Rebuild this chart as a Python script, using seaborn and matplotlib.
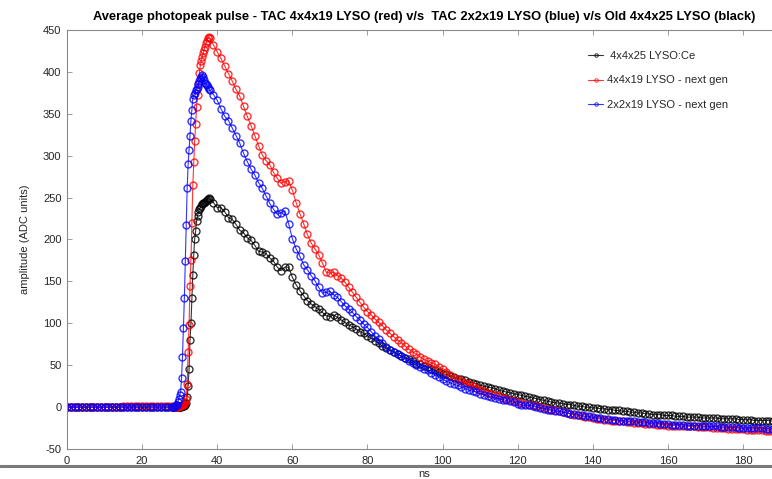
import numpy as np
import pandas as pd
import matplotlib
matplotlib.use("Agg")
import matplotlib.pyplot as plt
import seaborn as sns
from matplotlib.lines import Line2D

# time axis (ns): coarse baseline, fine rising edge, coarse tail
t_base = list(range(0, 29))
t_rise = [28 + 0.25 * k for k in range(1, 41)]
t_tail = list(range(39, 191))

black_base = [0, 0, 0, 0, 0, 0, 0, 0, 0, 0, 0, 0, 0, 0, 0, 0, 0, 0, 0, 0,
              0, 0, 0, 0, 0, 0, 0, 0, 0]
red_base = [0, 0, 0, 0, 0, 0, 0, 0, 0, 0, 0, 0, 0, 0, 0, 1, 1, 1, 1, 1,
            1, 1, 1, 1, 1, 1, 1, 1, 1]
blue_base = [0, 0, 0, 0, 0, 0, 0, 0, 0, 0, 0, 0, 0, 0, 0, 0, 0, 0, 0, 0,
             0, 0, 0, 0, 0, 0, 0, 0, 0]

black_rise = [0, 0, 0, 0, 0, 0, 0, 0, 0, 1, 1, 1, 1, 2, 5, 12, 25, 45, 80, 100,
              130, 158, 182, 201, 210, 222, 228, 233, 236, 238,
              240, 242, 243, 244, 245, 246, 247, 248, 249, 248]
red_rise = [0, 0, 0, 0, 0, 0, 1, 1, 1, 2, 2, 3, 4, 6, 10, 28, 66, 98, 145, 175,
            220, 265, 292, 318, 338, 358, 373, 386, 399, 408,
            413, 418, 422, 426, 430, 434, 437, 440, 442, 441]
blue_rise = [0, 0, 1, 2, 3, 6, 10, 14, 18, 35, 60, 94, 130, 174, 217, 262, 290, 307, 324, 342,
             355, 368, 373, 375, 378, 380, 382, 386, 389, 391,
             394, 396, 394, 390, 387, 385, 384, 382, 380, 378]

black_tail = [244, 238, 238, 233, 226, 224, 218, 211, 208, 202,
              199, 193, 186, 185, 183, 178, 174, 167, 163, 167,
              167, 155, 146, 139, 133, 127, 123, 120, 117, 113,
              109, 108, 110, 107, 104, 101, 98, 96, 93, 90,
              88, 85, 82, 79, 76, 73, 70, 68, 66, 63,
              61, 59, 57, 55, 52, 51, 49, 48, 46, 44,
              42, 40, 39, 37, 36, 34, 33, 32, 30, 29,
              28, 26, 25, 24, 23, 22, 20, 19, 18, 17,
              16, 15, 14, 13, 12, 11, 10, 9, 8, 7,
              6, 5, 5, 4, 3, 3, 2, 1, 1, 0,
              0, -1, -1, -2, -2, -3, -3, -4, -4, -5,
              -5, -6, -6, -7, -7, -8, -8, -9, -9, -9,
              -10, -10, -10, -11, -11, -11, -12, -12, -12, -12,
              -13, -13, -13, -13, -13, -14, -14, -14, -14, -14,
              -15, -15, -15, -15, -16, -16, -16, -16, -16, -17,
              -17, -17]
red_tail = [432, 424, 416, 407, 398, 389, 379, 371, 359, 347,
            336, 324, 312, 301, 294, 289, 280, 273, 267, 269,
            270, 259, 244, 231, 219, 206, 196, 189, 182, 172,
            161, 160, 161, 157, 154, 149, 143, 137, 131, 125,
            119, 114, 110, 105, 101, 97, 92, 88, 84, 80,
            77, 73, 69, 66, 63, 60, 57, 55, 53, 51,
            48, 45, 42, 38, 35, 33, 31, 29, 27, 25,
            23, 21, 19, 17, 16, 14, 13, 11, 10, 9,
            7, 6, 5, 4, 3, 2, 1, 0, -1, -2,
            -3, -4, -5, -6, -7, -8, -9, -10, -11, -12,
            -12, -13, -14, -14, -15, -15, -16, -16, -17, -17,
            -18, -18, -19, -19, -19, -20, -20, -20, -21, -21,
            -21, -22, -22, -22, -22, -23, -23, -23, -23, -24,
            -24, -24, -24, -25, -25, -25, -25, -26, -26, -26,
            -26, -26, -27, -27, -27, -27, -27, -28, -28, -28,
            -28, -28]
blue_tail = [373, 366, 356, 347, 342, 333, 324, 315, 303, 293,
             284, 277, 268, 261, 252, 243, 236, 230, 232, 234,
             219, 201, 189, 180, 170, 164, 157, 151, 143, 136,
             137, 138, 134, 131, 126, 121, 117, 113, 108, 104,
             99, 95, 90, 85, 81, 77, 72, 68, 66, 63,
             61, 58, 55, 53, 50, 48, 46, 44, 41, 38,
             36, 33, 31, 29, 27, 26, 24, 22, 20, 19,
             18, 16, 15, 13, 12, 11, 10, 9, 8, 7,
             6, 4, 3, 2, 2, 1, 0, -1, -2, -3,
             -4, -5, -5, -6, -7, -8, -8, -9, -10, -11,
             -11, -12, -13, -13, -14, -14, -15, -15, -16, -16,
             -17, -17, -17, -18, -18, -18, -19, -19, -19, -20,
             -20, -20, -21, -21, -21, -21, -22, -22, -22, -22,
             -23, -23, -23, -23, -23, -24, -24, -24, -24, -24,
             -25, -25, -25, -25, -25, -25, -25, -26, -26, -26,
             -26, -26]

labels = [" 4x4x25 LYSO:Ce", "4x4x19 LYSO - next gen", "2x2x19 LYSO - next gen"]
colors = ["black", "red", "blue"]

t = t_base + t_rise + t_tail
series = [black_base + black_rise + black_tail,
          red_base + red_rise + red_tail,
          blue_base + blue_rise + blue_tail]

sns.set_style("ticks")
plt.rcParams["font.family"] = ["Liberation Sans", "DejaVu Sans"]
plt.rcParams["axes.unicode_minus"] = False

fig = plt.figure(figsize=(7.72, 4.79), dpi=100)
ax = fig.add_axes([67 / 772, 1 - 449 / 479, (780.6 - 67) / 772, 419 / 479])

for y, c, lab in zip(series, colors, labels):
    sns.lineplot(x=t, y=y, ax=ax, color=c, label=lab, sort=False, estimator=None,
                 marker="o", markersize=5, markerfacecolor="none",
                 markeredgecolor=c, markeredgewidth=1.0, linewidth=0.8, alpha=0.8)

ax.set_xlim(0, 190)
ax.set_ylim(-50, 450)
ax.set_xticks(np.arange(0, 181, 20))
ax.set_yticks(np.arange(-50, 451, 50))
for s in ax.spines.values():
    s.set_visible(True)
    s.set_color("#8a8a8a")
    s.set_linewidth(0.8)
ax.tick_params(direction="in", length=3.5, width=0.6, color="#8a8a8a",
               labelsize=8, labelcolor="#262626", top=True, right=True, pad=4)
ax.tick_params(axis="x", pad=5)

ax.set_xlabel("ns", fontsize=8, color="#262626", labelpad=2.5)
ax.set_ylabel("amplitude (ADC units)", fontsize=8, color="#262626", labelpad=9)
ax.set_title("Average photopeak pulse - TAC 4x4x19 LYSO (red) v/s  TAC 2x2x19 LYSO (blue) v/s Old 4x4x25 LYSO (black)",
             fontsize=9.3, fontweight="bold", color="black", pad=7)

leg = ax.legend(loc="upper left", bbox_to_anchor=(588 / 772, 1 - 51 / 479),
                bbox_transform=fig.transFigure, frameon=False, fontsize=8,
                handlelength=1.35, handletextpad=0.35, labelspacing=1.3,
                borderpad=0, borderaxespad=0, markerscale=0.5)
for h in leg.get_lines():
    h.set_linewidth(0.8)
    h.set_markeredgewidth(0.7)

# grey window edge crossing under the tick labels
fig.add_artist(Line2D([0, 1], [1 - 466 / 479, 1 - 466 / 479], transform=fig.transFigure,
                      color="#7a7a7a", linewidth=2.2))

fig.savefig("out.png", dpi=100)
